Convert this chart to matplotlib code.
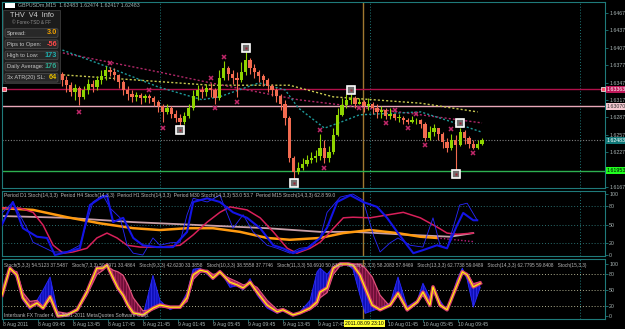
import numpy as np
import matplotlib.pyplot as plt
from matplotlib.patches import Rectangle, FancyBboxPatch

plt.rcParams['font.family'] = ['Liberation Sans', 'DejaVu Sans']
plt.rcParams['hatch.linewidth'] = 0.4

# ---------------- main chart (30 min steps, prices) ----------------
closes = [1.6369, 1.6376, 1.6383, 1.6378, 1.6387, 1.6390, 1.6381, 1.6374, 1.6380, 1.6369,
          1.6366, 1.6373, 1.6362, 1.6352, 1.6343, 1.6331, 1.6338, 1.6323, 1.6335, 1.6345,
          1.6340, 1.6352, 1.6359, 1.6369, 1.6366, 1.6361, 1.6349, 1.6335, 1.6328, 1.6323,
          1.6326, 1.6321, 1.6325, 1.6321, 1.6314, 1.6307, 1.6297, 1.6304, 1.6294, 1.6287,
          1.6280, 1.6290, 1.6304, 1.6325, 1.6335, 1.6331, 1.6338, 1.6335, 1.6321, 1.6356,
          1.6373, 1.6362, 1.6356, 1.6352, 1.6366, 1.6387, 1.6373, 1.6366, 1.6359, 1.6352,
          1.6342, 1.6335, 1.6325, 1.6311, 1.6287, 1.6218, 1.6193, 1.6200, 1.6207, 1.6214,
          1.6218, 1.6221, 1.6235, 1.6218, 1.6228, 1.6257, 1.6292, 1.6309, 1.6318, 1.6321,
          1.6311, 1.6314, 1.6307, 1.6311, 1.6304, 1.6297, 1.6300, 1.6290, 1.6294, 1.6287,
          1.6287, 1.6283, 1.6280, 1.6283, 1.6283, 1.6276, 1.6252, 1.6262, 1.6269, 1.6259,
          1.6245, 1.6235, 1.6249, 1.6240, 1.6262, 1.6252, 1.6242, 1.6235, 1.6242, 1.6248]
highs = [1.6380, 1.6387, 1.6392, 1.6388, 1.6395, 1.6400, 1.6393, 1.6387, 1.6387, 1.6383,
         1.6376, 1.6380, 1.6374, 1.6366, 1.6359, 1.6349, 1.6345, 1.6342, 1.6342, 1.6354,
         1.6352, 1.6359, 1.6369, 1.6376, 1.6374, 1.6373, 1.6362, 1.6352, 1.6342, 1.6335,
         1.6331, 1.6330, 1.6328, 1.6328, 1.6325, 1.6318, 1.6311, 1.6311, 1.6307, 1.6300,
         1.6294, 1.6297, 1.6311, 1.6335, 1.6343, 1.6342, 1.6345, 1.6347, 1.6338, 1.6369,
         1.6385, 1.6376, 1.6369, 1.6366, 1.6383, 1.6400, 1.6390, 1.6380, 1.6369, 1.6362,
         1.6356, 1.6345, 1.6338, 1.6328, 1.6318, 1.6290, 1.6221, 1.6211, 1.6218, 1.6223,
         1.6228, 1.6231, 1.6259, 1.6249, 1.6238, 1.6269, 1.6304, 1.6321, 1.6328, 1.6328,
         1.6325, 1.6321, 1.6318, 1.6321, 1.6314, 1.6311, 1.6307, 1.6304, 1.6304, 1.6292,
         1.6294, 1.6290, 1.6287, 1.6290, 1.6287, 1.6285, 1.6280, 1.6273, 1.6276, 1.6269,
         1.6262, 1.6252, 1.6259, 1.6257, 1.6269, 1.6266, 1.6256, 1.6249, 1.6249, 1.6252]
lows = [1.6359, 1.6366, 1.6373, 1.6369, 1.6376, 1.6380, 1.6373, 1.6366, 1.6369, 1.6361,
        1.6356, 1.6362, 1.6352, 1.6342, 1.6331, 1.6325, 1.6318, 1.6309, 1.6319, 1.6328,
        1.6331, 1.6335, 1.6345, 1.6352, 1.6359, 1.6352, 1.6338, 1.6326, 1.6318, 1.6314,
        1.6316, 1.6311, 1.6314, 1.6312, 1.6307, 1.6297, 1.6280, 1.6294, 1.6287, 1.6280,
        1.6273, 1.6276, 1.6287, 1.6300, 1.6318, 1.6321, 1.6325, 1.6323, 1.6311, 1.6318,
        1.6352, 1.6352, 1.6345, 1.6323, 1.6349, 1.6361, 1.6362, 1.6356, 1.6349, 1.6342,
        1.6331, 1.6325, 1.6314, 1.6300, 1.6274, 1.6211, 1.6183, 1.6190, 1.6197, 1.6204,
        1.6209, 1.6211, 1.6214, 1.6209, 1.6211, 1.6225, 1.6256, 1.6290, 1.6304, 1.6311,
        1.6304, 1.6311, 1.6297, 1.6300, 1.6294, 1.6287, 1.6287, 1.6285, 1.6285, 1.6283,
        1.6280, 1.6276, 1.6276, 1.6278, 1.6276, 1.6269, 1.6247, 1.6249, 1.6256, 1.6249,
        1.6235, 1.6228, 1.6231, 1.6197, 1.6238, 1.6242, 1.6235, 1.6233, 1.6233, 1.6240]

# fractal arrows (magenta) and zigzag pivots (white)
frac_up_idx = [24, 33, 47, 50, 72, 89, 94, 102]
frac_up_px = [1.6381, 1.6335, 1.6355, 1.6392, 1.6266, 1.6300, 1.6293, 1.6268]
frac_dn_idx = [17, 36, 48, 53, 73, 81, 87, 92, 96, 107]
frac_dn_px = [1.6297, 1.6269, 1.6304, 1.6314, 1.6200, 1.6304, 1.6278, 1.6269, 1.6240, 1.6226]
zz_idx = [40, 55, 66, 79, 103, 104]
zz_px = [1.6266, 1.6408, 1.6174, 1.6335, 1.6190, 1.6278]

# moving averages (dotted)
ma_teal_idx = [0, 13, 24, 35, 45, 49, 58, 64, 67, 73, 78, 81, 95, 102, 109]
ma_teal = [1.6421, 1.6404, 1.6373, 1.6340, 1.6318, 1.6323, 1.6347, 1.6335, 1.6304, 1.6269,
           1.6283, 1.6292, 1.6297, 1.6280, 1.6262]
ma_red_idx = [0, 13, 35, 47, 58, 67, 79, 90, 109]
ma_red = [1.6412, 1.6399, 1.6366, 1.6347, 1.6331, 1.6318, 1.6307, 1.6297, 1.6278]
ma_yel_idx = [0, 13, 47, 65, 75, 95, 108]
ma_yel = [1.6369, 1.6361, 1.6343, 1.6343, 1.6323, 1.6312, 1.6297]

price_ticks = [1.61675, 1.61975, 1.62275, 1.62575, 1.62875, 1.63175,
               1.63475, 1.63775, 1.64075, 1.64375, 1.64675]
level_red = 1.63363
level_pink = 1.63070
bid = 1.62483
level_green = 1.61953

# ---------------- panel 2: multi timeframe stochastics ----------------
d1_x = [-1.1, 6.4, 14.2, 21.7, 29.3, 35.4, 41.6, 47.5, 53.7, 59.9, 65.1, 72, 77.3, 83.4, 89.6, 94.9, 98.7]
d1_v = [77, 74, 62, 52, 44, 41, 44, 44, 38, 28, 25, 28, 36, 41, 36, 30, 28]
d1_tail_x = [98.7, 107]
d1_tail_v = [28, 22]
h4_x = [-1.1, 14.2, 29.3, 44.6, 59.9, 72, 79.5, 85, 92.6, 101.7, 107]
h4_v = [64, 61, 54, 49, 44, 38, 38, 36, 33, 30, 36]
m30_x = [-1.1, 3.4, 6.4, 8.7, 11, 13.3, 15.5, 18.7, 21, 23.3, 25.6, 27.9, 30.9, 35.4, 40, 43,
         46.2, 49.1, 51.4, 55.3, 58.3, 61.3, 64.5, 66.7, 69.7, 72, 74.3, 77.3, 79.5, 83.4, 91,
         94.9, 98.7, 101, 103.3, 107]
m30_v = [77, 77, 70, 49, 16, 3, 5, 11, 28, 36, 28, 16, 13, 13, 16, 33, 54, 70, 79, 74, 61, 38,
         11, 3, 11, 21, 38, 61, 62, 61, 70, 61, 46, 36, 34, 36]
h1_x = [-1.1, 1.8, 4.1, 7.3, 9.6, 11.4, 14.2, 17.1, 19.4, 21.7, 23.3, 24.7, 27, 29.3, 31.5,
        34.7, 38.4, 41.6, 43, 46.2, 49.1, 52.1, 55.3, 58.3, 61.3, 63.5, 65.8, 69, 72, 73.6, 75.9,
        78.9, 81.8, 85, 87.3, 89.6, 91.9, 93.3, 95.5, 98.7, 101, 103.3, 104.7, 107, 107.9]
h1_v = [44, 87, 44, 30, 28, 0, 5, 11, 82, 93, 98, 54, 61, 28, 16, 13, 13, 38, 87, 93, 87, 70,
        61, 44, 16, 11, 3, 11, 28, 45, 87, 98, 87, 79, 61, 38, 16, 3, 8, 16, 11, 49, 69, 57, 57]
m15_x = [-1.1, 1.8, 5, 6.4, 8.7, 11, 14.2, 17.1, 18.7, 20.1, 22.4, 24, 26.3, 27.9, 29.3, 31.5,
         33.8, 35.4, 37.7, 40, 41.6, 43, 46.2, 49.1, 52.1, 54.4, 56.7, 59.9, 62.2, 65.1, 67.4,
         69.7, 72, 73.6, 76.6, 79.5, 81.8, 84.3, 85.7, 88, 89.8, 92.6, 95.5, 97.8, 99.4, 101,
         103.9, 105.6, 107.9]
m15_v = [66, 87, 44, 21, 13, 5, 5, 16, 54, 87, 98, 77, 61, 16, 3, 0, 28, 16, 20, 21, 66, 93, 87,
         98, 44, 66, 38, 16, 11, 3, 11, 13, 28, 70, 95, 100, 90, 30, 5, 20, 28, 16, 13, 61, 16,
         11, 82, 85, 57]

# ---------------- panel 3: stochastic ribbon ----------------
rib_x = [-0.7, 1.1, 2.7, 4.1, 5.7, 7.3, 8.7, 10.3, 12.1, 14.2, 16.5, 18.7, 21, 22.4, 23.3, 24.7,
         25.8, 27, 28.1, 29.3, 31.5, 33.8, 35.4, 37.7, 40, 41.6, 43, 44.6, 46.2, 47.5, 49.1, 51.4,
         53, 54.4, 56, 57.6, 59.9, 62.2, 63.5, 65.8, 67.4, 69.7, 71.3, 72, 73.6, 75, 76.6, 78.4,
         79.5, 81.1, 82.3, 83.9, 85.7, 88, 89.8, 91.9, 94.2, 95.5, 97.1, 97.8, 99.4, 101, 103.3,
         104.5, 105.6, 107, 108.6]
rib_mid = [40, 92, 79, 35, 17, 25, 15, 37, 0, 2, 12, 46, 92, 92, 98, 73, 54, 40, 21, 6, 2, 15,
           21, 17, 17, 35, 79, 88, 85, 73, 85, 65, 60, 54, 65, 46, 21, 8, 12, 2, 6, 15, 27, 46, 54,
           92, 100, 100, 98, 79, 54, 21, 12, 21, 44, 12, 27, 46, 21, 56, 21, 12, 60, 85, 79, 56, 63]
rib_fast = [45, 95, 72, 30, 12, 30, 50, 75, 5, 0, 15, 50, 95, 90, 100, 68, 50, 35, 18, 4, 0, 78,
            30, 12, 20, 45, 90, 92, 80, 70, 88, 55, 58, 50, 72, 40, 15, 5, 10, 0, 8, 30, 85, 92,
            80, 95, 100, 98, 90, 40, 5, 10, 15, 25, 75, 18, 30, 63, 35, 54, 30, 10, 70, 92, 70,
            17, 55]
rib_slow = [38, 88, 85, 45, 28, 30, 18, 30, 8, 5, 10, 40, 80, 88, 96, 88, 85, 78, 60, 35, 10, 12,
            18, 15, 18, 28, 70, 84, 88, 80, 82, 72, 66, 60, 62, 55, 30, 12, 14, 4, 5, 12, 22, 35,
            45, 80, 97, 100, 100, 100, 92, 75, 40, 18, 40, 10, 25, 40, 18, 50, 18, 14, 55, 82, 82,
            62, 66]

time_idx = [-0.5, 7.5, 15.5, 23.5, 31.5, 39.5, 47.5, 55.5, 63.5, 71.5, 87.5, 95.5, 103.5]
time_lbl = ['8 Aug 2011', '8 Aug 09:45', '8 Aug 13:45', '8 Aug 17:45', '8 Aug 21:45',
            '9 Aug 01:45', '9 Aug 05:45', '9 Aug 09:45', '9 Aug 13:45', '9 Aug 17:45',
            '10 Aug 01:45', '10 Aug 05:45', '10 Aug 09:45']
day_sep = [35.5, 83.5, 131.5]
cursor_idx = 81.8

W, H = 625, 329
teal = '#1F7A7A'
lbl_col = '#A8B4B4'
fs = 3.8
fig = plt.figure(figsize=(6.25, 3.29), dpi=100, facecolor='black')


def px_axes(top, bottom):
    return fig.add_axes([2 / W, 1 - bottom / H, 603 / W, (bottom - top) / H])


ax1 = px_axes(2, 188)
ax2 = px_axes(191, 256)
ax3 = px_axes(259, 319)
for ax in (ax1, ax2, ax3):
    ax.set_facecolor('black')
    ax.set_xlim(-0.69, 137.1)
    for s in ax.spines.values():
        s.set_color(teal)
        s.set_linewidth(0.8)
    ax.yaxis.tick_right()
    ax.tick_params(axis='y', length=2, width=0.6, pad=1.0, labelsize=fs,
                   colors=teal, labelcolor=lbl_col)
    ax.tick_params(axis='x', bottom=False, labelbottom=False)
    for d in day_sep:
        ax.axvline(d, color=teal, ls=(0, (1, 2)), lw=0.7, zorder=1)
    ax.axvline(cursor_idx, color='#A07830', lw=1.0, zorder=1)

# ---- main chart ----
ax1.set_ylim(1.61658, 1.64865)
ax1.set_yticks(price_ticks)
# the green level box hides the 1.61975 label, as in the terminal
ax1.set_yticklabels(['' if abs(p - level_green) < 0.0005 else '%.5f' % p for p in price_ticks])

idx = np.arange(len(closes))
opens = [closes[0]] + closes[:-1]
up_col, dn_col = '#8FD400', '#F26B50'
cols = [up_col if c >= o else dn_col for o, c in zip(opens, closes)]
bottoms = [min(o, c) for o, c in zip(opens, closes)]
heights = [max(abs(c - o), 0.00004) for o, c in zip(opens, closes)]

ax1.axhline(level_red, color='#B0104A', lw=1.0, zorder=2)
ax1.axhline(level_pink, color='#E8A8B8', lw=1.0, zorder=2)
ax1.axhline(bid, color='#808080', lw=0.8, ls=(0, (1, 1.5)), zorder=2)
ax1.axhline(level_green, color='#2DB050', lw=1.0, zorder=2)
ax1.plot([0.004, 0.996], [level_red, level_red], transform=ax1.get_yaxis_transform(),
         ls='none', marker='s', ms=2.6, mfc='#FF5068', mec='white', mew=0.5, zorder=3)

ax1.plot(ma_yel_idx, ma_yel, color='#C8C850', lw=1.0, ls=(0, (1.5, 1.5)), zorder=3)
ax1.plot(ma_red_idx, ma_red, color='#B02868', lw=1.0, ls=(0, (1.5, 1.5)), zorder=3)
ax1.plot(ma_teal_idx, ma_teal, color='#1E9A9A', lw=1.0, ls=(0, (1.5, 1.5)), zorder=3)

ax1.vlines(idx, lows, highs, colors=cols, lw=0.8, zorder=4)
ax1.bar(idx, heights, bottom=bottoms, width=0.75, color=cols, lw=0, zorder=4)

ax1.plot(frac_up_idx, frac_up_px, ls='none', marker='x', ms=3.2, mew=1.1, color='#C0286A', zorder=5)
ax1.plot(frac_dn_idx, frac_dn_px, ls='none', marker='x', ms=3.2, mew=1.1, color='#C0286A', zorder=5)
ax1.plot(zz_idx, zz_px, ls='none', marker='s', ms=5.2, mfc='#707070', mec='white', mew=1.2, zorder=6)
ax1.plot(zz_idx, zz_px, ls='none', marker='s', ms=1.8, mfc='#A02030', mec='none', zorder=7)

yt = ax1.get_yaxis_transform()
for val, fc, tc in [(level_red, '#C0185A', 'white'), (level_pink, '#F4C8D0', '#303030'),
                    (bid, '#107878', 'white'), (level_green, '#20FF20', 'black')]:
    ax1.text(1.003, val, '%.5f' % val, transform=yt, fontsize=fs, va='center', ha='left',
             color=tc, clip_on=False, zorder=8,
             bbox=dict(boxstyle='square,pad=0.2', fc=fc, ec='none'))

# ---- panel 2 ----
ax2.set_ylim(-1.6, 105)
ax2.set_yticks([0, 20, 50, 80, 100])
for lv in (20, 50, 80):
    ax2.axhline(lv, color='#2A7070', lw=0.7, ls=(0, (1, 2)), zorder=1)
ax2.plot(h4_x, h4_v, color='#C8A0A8', lw=1.3, zorder=2)
ax2.plot(d1_x, d1_v, color='#FF9A10', lw=1.8, zorder=3)
ax2.plot(d1_tail_x, d1_tail_v, color='#C02080', lw=1.0, ls=(0, (1, 1.5)), zorder=3)
ax2.plot(m30_x, m30_v, color='#D8205A', lw=1.1, zorder=4)
ax2.plot(m15_x, m15_v, color='#2828FF', lw=0.6, zorder=4)
ax2.plot(h1_x, h1_v, color='#1414E6', lw=1.5, zorder=5)
ax2.text(0.003, 0.935, 'Period D1 Stoch(14,3,3)  Period H4 Stoch(14,3,3)  Period H1 Stoch(14,3,3)  '
         'Period M30 Stoch(14,3,3) 53.0 53.7  Period M15 Stoch(14,3,3) 62.8 59.0',
         transform=ax2.transAxes, fontsize=3.6, color='#B8B8B8', va='center', zorder=9)

# ---- panel 3 ----
ax3.set_ylim(-5.8, 109.6)
ax3.set_yticks([0, 20, 50, 80, 100])
for lv in (20, 50, 80):
    ax3.axhline(lv, color='#B0B090', lw=0.7, ls=(0, (1, 2)), zorder=1)
ax3.fill_between(rib_x, rib_mid, rib_fast, facecolor='#1010B8', edgecolor='#3C3CFF',
                 hatch='||||||', lw=0, zorder=2)
ax3.fill_between(rib_x, rib_mid, rib_slow, facecolor='#701038', edgecolor='#C83070',
                 hatch='||||||', lw=0, zorder=3)
ax3.plot(rib_x, rib_fast, color='#2828FF', lw=0.6, zorder=3)
ax3.plot(rib_x, rib_slow, color='#E0507A', lw=0.9, zorder=4)
ax3.plot(rib_x, rib_mid, color='#D84070', lw=2.6, zorder=4)
ax3.plot(rib_x, rib_mid, color='#FFFF00', lw=0.8, zorder=5)
ax3.text(0.003, 0.9, 'Stoch(5,3,3) 54.5123 37.5487   Stoch(7,3,3) 50.7971 33.4864   '
         'Stoch(9,3,3) 42.6230 33.3858   Stoch(10,3,3) 38.5558 37.7746   '
         'Stoch(11,3,3) 50.6910 50.8325   Stoch(12,3,3) 58.2083 57.8469   '
         'Stoch(13,3,3) 62.7738 59.0489   Stoch(14,3,3) 62.7795 59.8408   Stoch(15,3,3)',
         transform=ax3.transAxes, fontsize=3.45, color='#B8B8B8', va='center', zorder=9)
ax3.text(0.003, 0.07, 'Interbank FX Trader 4, \u00a9 2001-2011 MetaQuotes Software Corp.',
         transform=ax3.transAxes, fontsize=3.6, color='#B8B8B8', va='center', zorder=9)

ax3.set_xticks(time_idx)
ax3.set_xticklabels(time_lbl)
ax3.tick_params(axis='x', bottom=True, labelbottom=True, length=2, width=0.6, pad=0.5,
                labelsize=3.6, colors=teal, labelcolor=lbl_col)
for lbl in ax3.get_xticklabels():
    lbl.set_ha('left')
ax3.text(cursor_idx + 0.3, -0.075, '2011.08.09 23:10', transform=ax3.get_xaxis_transform(),
         fontsize=3.6, ha='center', va='center', color='black', clip_on=False, zorder=10,
         bbox=dict(boxstyle='square,pad=0.25', fc='#FFFF30', ec='none'))

# ---- overlay in pixel coordinates: title and info panel ----
ov = fig.add_axes([0, 0, 1, 1])
ov.set_zorder(20)
ov.set_xlim(0, W)
ov.set_ylim(H, 0)
ov.axis('off')
ov.patch.set_alpha(0)

ov.add_patch(Rectangle((5, 2.5), 10, 5, fc='white', ec='none'))
ov.text(18, 5, 'GBPUSDm,M15  1.62483 1.62474 1.62417 1.62483', fontsize=fs,
        color='#9FB4B4', va='center')

ov.add_patch(Rectangle((3, 10), 57, 73, fc='#1B1B1B', ec='#3C3C3C', lw=0.6))
ov.text(31.5, 15.5, 'THV  V4  Info', fontsize=5.3, color='#D0D0D0', ha='center', va='center')
ov.text(31.5, 22.5, '\u00a9 Forex-TSD & FF', fontsize=3.3, color='#909090', ha='center', va='center')
rows = [('Spread:', '3.0', '#F0A000'), ('Pips to Open:', '-56', '#FF4A4A'),
        ('High to Low:', '173', '#20B0B0'), ('Daily Average:', '176', '#30A890'),
        ('3x ATR(20) SL:', '64', '#E8C000')]
for k, (name, val, vc) in enumerate(rows):
    yc = 33 + k * 11.2
    ov.add_patch(FancyBboxPatch((5, yc - 4.3), 53, 8.6, boxstyle='round,pad=0,rounding_size=1.5',
                                fc='#282828', ec='#4A4A4A', lw=0.6))
    ov.text(7, yc, name, fontsize=4.1, color='#C8C8C8', va='center')
    ov.text(57, yc, val, fontsize=5.3, color=vc, va='center', ha='right', fontweight='bold')

fig.savefig('out.png', dpi=100, facecolor='black')
